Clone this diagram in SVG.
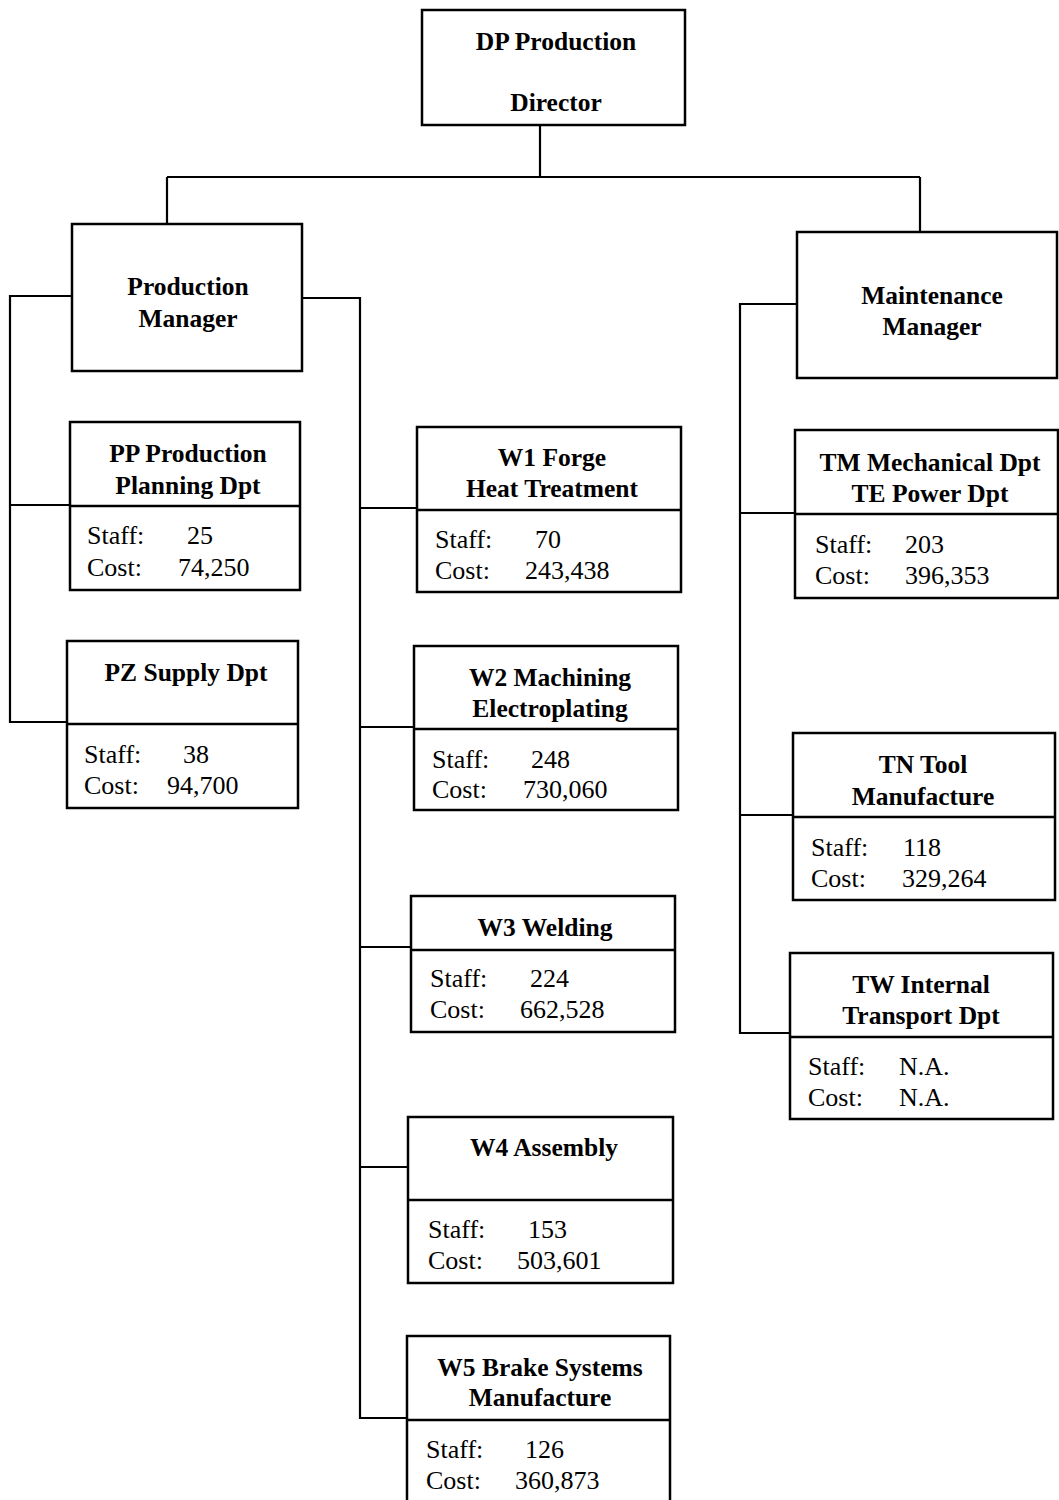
<svg xmlns="http://www.w3.org/2000/svg" width="1059" height="1500" viewBox="0 0 1059 1500">
<style>
.box{fill:#fff;stroke:#000;stroke-width:2.5}
.div{stroke:#000;stroke-width:2.5;fill:none}
.con{stroke:#000;stroke-width:2.2;fill:none}
.t{font-family:"Liberation Serif","Times New Roman",serif;font-size:25.5px;font-weight:bold;text-anchor:middle;fill:#000}
.b{font-family:"Liberation Serif","Times New Roman",serif;font-size:26px;fill:#000}
</style>
<rect width="1059" height="1500" fill="#fff"/>
<g id="connectors">
<path class="con" d="M540 125 V177 M167 177 H920 M167 177 V224 M920 177 V232"/>
<path class="con" d="M72 296 H10 V722 H67 M10 505 H70"/>
<path class="con" d="M302 298 H360 V1418 H407 M360 508 H417 M360 727 H414 M360 947 H411 M360 1167 H408"/>
<path class="con" d="M797 304 H740 V1033 H790 M740 513 H795 M740 815 H793"/>
</g>
<g id="director">
<rect class="box" x="422" y="10" width="263" height="115"/>
<text class="t" x="556" y="50">DP Production</text>
<text class="t" x="556" y="111">Director</text>
</g>
<g id="production-manager">
<rect class="box" x="72" y="224" width="230" height="147"/>
<text class="t" x="188" y="295">Production</text>
<text class="t" x="188" y="327">Manager</text>
</g>
<g id="maintenance-manager">
<rect class="box" x="797" y="232" width="260" height="146"/>
<text class="t" x="932" y="304">Maintenance</text>
<text class="t" x="932" y="335">Manager</text>
</g>
<g id="pp">
<rect class="box" x="70" y="422" width="230" height="168"/>
<line class="div" x1="70" y1="506" x2="300" y2="506"/>
<text class="t" x="188" y="462">PP Production</text>
<text class="t" x="188" y="494">Planning Dpt</text>
<text class="b" x="87" y="544">Staff:</text><text class="b" x="187" y="544">25</text>
<text class="b" x="87" y="576">Cost:</text><text class="b" x="178" y="576">74,250</text>
</g>
<g id="pz">
<rect class="box" x="67" y="641" width="231" height="167"/>
<line class="div" x1="67" y1="724" x2="298" y2="724"/>
<text class="t" x="186" y="681">PZ Supply Dpt</text>
<text class="b" x="84" y="763">Staff:</text><text class="b" x="183" y="763">38</text>
<text class="b" x="84" y="794">Cost:</text><text class="b" x="167" y="794">94,700</text>
</g>
<g id="w1">
<rect class="box" x="417" y="427" width="264" height="165"/>
<line class="div" x1="417" y1="510" x2="681" y2="510"/>
<text class="t" x="552" y="466">W1 Forge</text>
<text class="t" x="552" y="497">Heat Treatment</text>
<text class="b" x="435" y="548">Staff:</text><text class="b" x="535" y="548">70</text>
<text class="b" x="435" y="579">Cost:</text><text class="b" x="525" y="579">243,438</text>
</g>
<g id="w2">
<rect class="box" x="414" y="646" width="264" height="164"/>
<line class="div" x1="414" y1="729" x2="678" y2="729"/>
<text class="t" x="550" y="686">W2 Machining</text>
<text class="t" x="550" y="717">Electroplating</text>
<text class="b" x="432" y="768">Staff:</text><text class="b" x="531" y="768">248</text>
<text class="b" x="432" y="798">Cost:</text><text class="b" x="523" y="798">730,060</text>
</g>
<g id="w3">
<rect class="box" x="411" y="896" width="264" height="136"/>
<line class="div" x1="411" y1="950" x2="675" y2="950"/>
<text class="t" x="545" y="936">W3 Welding</text>
<text class="b" x="430" y="987">Staff:</text><text class="b" x="530" y="987">224</text>
<text class="b" x="430" y="1018">Cost:</text><text class="b" x="520" y="1018">662,528</text>
</g>
<g id="w4">
<rect class="box" x="408" y="1117" width="265" height="166"/>
<line class="div" x1="408" y1="1200" x2="673" y2="1200"/>
<text class="t" x="544" y="1156">W4 Assembly</text>
<text class="b" x="428" y="1238">Staff:</text><text class="b" x="528" y="1238">153</text>
<text class="b" x="428" y="1269">Cost:</text><text class="b" x="517" y="1269">503,601</text>
</g>
<g id="w5">
<rect class="box" x="407" y="1336" width="263" height="180"/>
<line class="div" x1="407" y1="1420" x2="670" y2="1420"/>
<text class="t" x="540" y="1376">W5 Brake Systems</text>
<text class="t" x="540" y="1406">Manufacture</text>
<text class="b" x="426" y="1458">Staff:</text><text class="b" x="525" y="1458">126</text>
<text class="b" x="426" y="1489">Cost:</text><text class="b" x="515" y="1489">360,873</text>
</g>
<g id="tm">
<rect class="box" x="795" y="430" width="263" height="168"/>
<line class="div" x1="795" y1="514" x2="1058" y2="514"/>
<text class="t" x="930" y="471">TM Mechanical Dpt</text>
<text class="t" x="930" y="502">TE Power Dpt</text>
<text class="b" x="815" y="553">Staff:</text><text class="b" x="905" y="553">203</text>
<text class="b" x="815" y="584">Cost:</text><text class="b" x="905" y="584">396,353</text>
</g>
<g id="tn">
<rect class="box" x="793" y="733" width="262" height="167"/>
<line class="div" x1="793" y1="817" x2="1055" y2="817"/>
<text class="t" x="923" y="773">TN Tool</text>
<text class="t" x="923" y="805">Manufacture</text>
<text class="b" x="811" y="856">Staff:</text><text class="b" x="903" y="856">118</text>
<text class="b" x="811" y="887">Cost:</text><text class="b" x="902" y="887">329,264</text>
</g>
<g id="tw">
<rect class="box" x="790" y="953" width="263" height="166"/>
<line class="div" x1="790" y1="1037" x2="1053" y2="1037"/>
<text class="t" x="921" y="993">TW Internal</text>
<text class="t" x="921" y="1024">Transport Dpt</text>
<text class="b" x="808" y="1075">Staff:</text><text class="b" x="899" y="1075">N.A.</text>
<text class="b" x="808" y="1106">Cost:</text><text class="b" x="899" y="1106">N.A.</text>
</g>
</svg>
